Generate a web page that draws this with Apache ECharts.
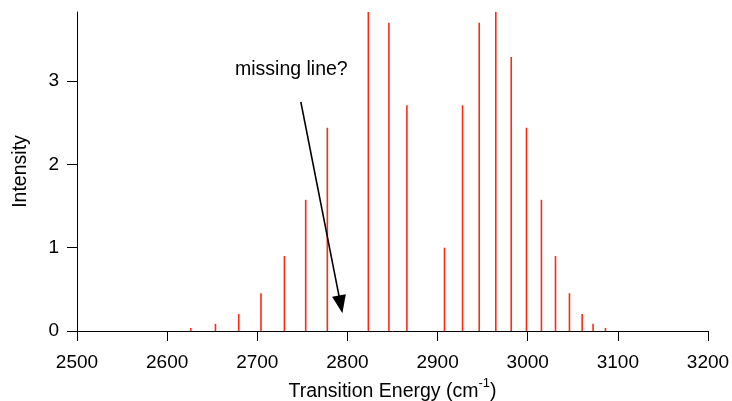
<!DOCTYPE html>
<html>
<head>
<meta charset="utf-8">
<script src="https://cdn.jsdelivr.net/npm/echarts@6/dist/echarts.min.js"></script>
<style>
html,body{margin:0;padding:0;background:#fff;}
#chart{width:732px;height:401px;}
</style>
</head>
<body>
<div id="chart"></div>
<script>
// Transition energies (cm^-1)
var energies = [2626.2, 2653.6, 2679.4, 2704.1, 2730.1, 2753.7, 2777.7, 2823.2, 2846.0, 2866.0, 2907.7,
                2927.7, 2946.2, 2964.6, 2981.7, 2998.6, 3015.2, 3030.8, 3046.3, 3060.4, 3072.5, 3086.2];
// Intensities
var intensities = [0.036, 0.086, 0.205, 0.454, 0.90, 1.575, 2.44, 3.83, 3.70, 2.71, 1.00,
                   2.71, 3.70, 3.83, 3.29, 2.44, 1.575, 0.90, 0.454, 0.205, 0.086, 0.036];
var xTicks = [2500, 2600, 2700, 2800, 2900, 3000, 3100, 3200];
var yTicks = [0, 1, 2, 3];
// annotation arrow (data coords): start -> arrowhead centre
var arrowStart = [2748.3, 2.75];
var arrowTip = [2792.5, 0.32];
var annotationText = 'missing line?';

var FONT = '"Liberation Sans", Arial, sans-serif';
var data = energies.map(function (e, i) { return [e, intensities[i]]; });

var chart = echarts.init(document.getElementById('chart'), null, {renderer: 'canvas'});
chart.setOption({
  animation: false,
  backgroundColor: '#ffffff',
  grid: {left: 77, right: 24, top: 12, bottom: 70, containLabel: false, outerBoundsMode: 'none'},
  xAxis: {
    type: 'value', min: 2500, max: 3200, interval: 100,
    axisLine: {show: true, onZero: false, lineStyle: {color: '#000', width: 1}},
    axisTick: {show: true, inside: false, length: 10, lineStyle: {color: '#000'}, customValues: xTicks},
    axisLabel: {margin: 22, color: '#000', fontSize: 19, fontFamily: FONT, customValues: xTicks,
      formatter: function (v) { return String(v); }},
    splitLine: {show: false},
    name: 'Transition Energy (cm{sup|-1})',
    nameLocation: 'middle', nameGap: 46,
    nameTextStyle: {color: '#000', fontSize: 19.5, fontFamily: FONT,
      rich: {sup: {fontSize: 13, verticalAlign: 'top', padding: [0, 0, 16, 0], color: '#000', fontFamily: FONT}}}
  },
  yAxis: {
    type: 'value', min: 0, max: 3.83,
    axisLine: {show: true, lineStyle: {color: '#000', width: 1}},
    axisTick: {show: true, inside: false, length: 10, lineStyle: {color: '#000'}, customValues: yTicks},
    axisLabel: {margin: 18, color: '#000', fontSize: 19, fontFamily: FONT, customValues: yTicks},
    splitLine: {show: false},
    name: 'Intensity', nameLocation: 'middle', nameGap: 46, nameRotate: 90,
    nameTextStyle: {color: '#000', fontSize: 19.5, fontFamily: FONT}
  },
  series: [{
    type: 'bar',
    data: data,
    barWidth: 1.6,
    itemStyle: {color: '#ff2a10'},
    markLine: {
      silent: true,
      symbol: ['none', 'triangle'],
      symbolSize: [14, 18],
      lineStyle: {color: '#000', width: 1.6, type: 'solid'},
      itemStyle: {color: '#000'},
      label: {show: false},
      data: [[{coord: arrowStart}, {coord: arrowTip}]]
    }
  }],
  graphic: [{
    type: 'text', left: 235, top: 60,
    style: {text: annotationText, fill: '#000', fontSize: 19.5, fontFamily: FONT}
  }]
});
</script>
</body>
</html>
